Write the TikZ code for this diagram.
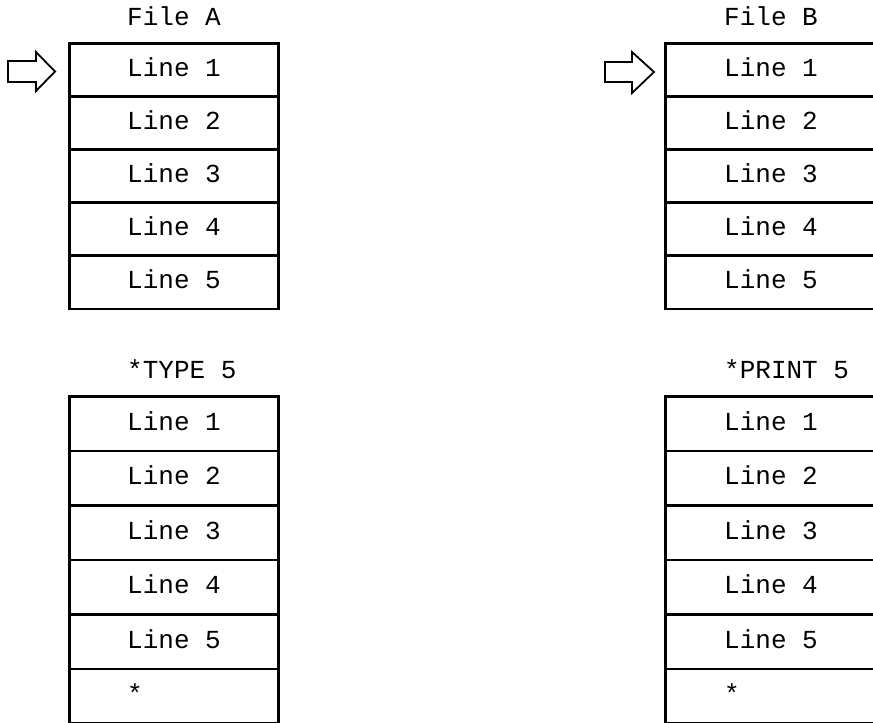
\documentclass[tikz,border=0pt]{standalone}
\usepackage{fontspec}
\setmonofont{Liberation Mono}
\begin{document}
\begin{tikzpicture}[x=1pt,y=-1pt,
  cell/.style={draw=black, line width=2.6pt, minimum width=209pt, inner sep=0pt, anchor=north west},
  cellB/.style={cell, minimum width=213pt},
  toprow/.style={minimum height=53.1pt},
  botrow/.style={minimum height=54.5pt},
  lbl/.style={font=\ttfamily\fontsize{26}{30}\selectfont, anchor=base west, inner sep=0pt},
  ptr/.style={draw=black, line width=1.8pt, line join=miter}]
\useasboundingbox (0,0) rectangle (873,723);
\fill[white] (0,0) rectangle (873,723);
% titles
\node[lbl] (titleA) at (127,25) {File A};
\node[lbl] (titleB) at (724,25) {File B};
\node[lbl] (titleC) at (127,378) {*TYPE 5};
\node[lbl] (titleD) at (724,378) {*PRINT 5};
% top tables
\foreach \i in {1,...,5} {
  \node[cell,toprow] (a\i) at (68,{42+(\i-1)*53.1}) {};
  \node[lbl] (ta\i) at (127,{42+(\i-0.5)*53.1+8}) {Line \i};
  \node[cellB,toprow] (b\i) at (664,{42+(\i-1)*53.1}) {};
  \node[lbl] (tb\i) at (724,{42+(\i-0.5)*53.1+8}) {Line \i};
}
% bottom tables
\foreach \i in {1,...,6} {
  \node[cell,botrow] (c\i) at (68,{395+(\i-1)*54.5}) {};
  \node[cellB,botrow] (d\i) at (664,{395+(\i-1)*54.5}) {};
}
\foreach \i in {1,...,5} {
  \node[lbl] (tc\i) at (127,{395+(\i-0.5)*54.5+8}) {Line \i};
  \node[lbl] (td\i) at (724,{395+(\i-0.5)*54.5+8}) {Line \i};
}
\node[lbl] (tc6) at (127,{395+5.5*54.5+8}) {*};
\node[lbl] (td6) at (724,{395+5.5*54.5+8}) {*};
% pointer arrows
\draw[ptr] (8,61) -- (36,61) -- (36,52) -- (55,71.5) -- (36,91) -- (36,82) -- (8,82) -- cycle;
\draw[ptr] (605,62) -- (632,62) -- (632,52) -- (654,72) -- (632,93) -- (632,82) -- (605,82) -- cycle;
\end{tikzpicture}
\end{document}
